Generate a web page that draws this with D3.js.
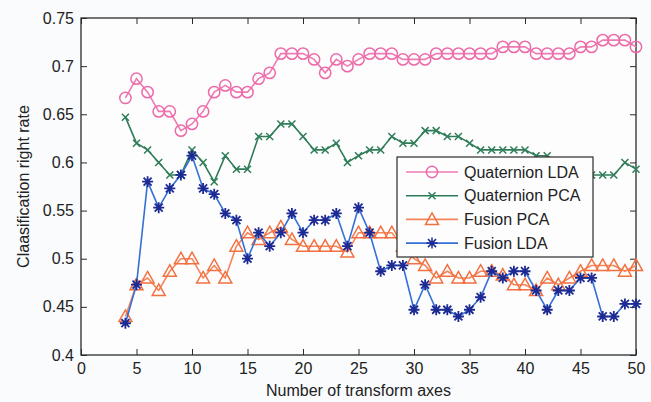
<!DOCTYPE html>
<html>
<head>
<meta charset="utf-8">
<script src="https://cdn.jsdelivr.net/npm/d3@7"></script>
<style>
  body { margin: 0; background: #fafbfd; }
  svg { display: block; font-family: "Liberation Sans", Arial, sans-serif; }
</style>
</head>
<body>
<script>
// data
var axes = d3.range(4, 51);   // number of transform axes 4..50

var quatLDA = [0.667, 0.687, 0.673, 0.653, 0.653, 0.633, 0.640, 0.653, 0.673, 0.680,
  0.673, 0.673, 0.687, 0.693, 0.713, 0.713, 0.713, 0.707, 0.693, 0.707,
  0.700, 0.707, 0.713, 0.713, 0.713, 0.707, 0.707, 0.707, 0.713, 0.713,
  0.713, 0.713, 0.713, 0.713, 0.720, 0.720, 0.720, 0.713, 0.713, 0.713,
  0.713, 0.720, 0.720, 0.727, 0.727, 0.727, 0.720];

var quatPCA = [0.647, 0.620, 0.613, 0.600, 0.587, 0.587, 0.613, 0.600, 0.580, 0.607,
  0.593, 0.593, 0.627, 0.627, 0.640, 0.640, 0.627, 0.613, 0.613, 0.620,
  0.600, 0.607, 0.613, 0.613, 0.627, 0.620, 0.620, 0.633, 0.633, 0.627,
  0.627, 0.620, 0.613, 0.613, 0.613, 0.613, 0.613, 0.607, 0.607, 0.600,
  0.593, 0.587, 0.587, 0.587, 0.587, 0.600, 0.593];

var fusPCA = [0.440, 0.473, 0.480, 0.467, 0.487, 0.500, 0.500, 0.480, 0.493, 0.480,
  0.513, 0.527, 0.520, 0.527, 0.533, 0.520, 0.513, 0.513, 0.513, 0.513,
  0.507, 0.527, 0.527, 0.527, 0.527, 0.513, 0.500, 0.493, 0.480, 0.487,
  0.480, 0.480, 0.487, 0.487, 0.483, 0.473, 0.473, 0.467, 0.480, 0.473,
  0.480, 0.487, 0.493, 0.493, 0.493, 0.487, 0.493];

var fusLDA = [0.433, 0.473, 0.580, 0.553, 0.573, 0.587, 0.607, 0.573, 0.567, 0.547,
  0.540, 0.500, 0.527, 0.513, 0.527, 0.547, 0.527, 0.540, 0.540, 0.547,
  0.513, 0.553, 0.527, 0.487, 0.493, 0.493, 0.447, 0.473, 0.447, 0.447,
  0.440, 0.447, 0.460, 0.487, 0.480, 0.487, 0.487, 0.467, 0.447, 0.467,
  0.467, 0.480, 0.480, 0.440, 0.440, 0.453, 0.453];

var xTicks = d3.range(0, 51, 5);
var yTicks = [0.4, 0.45, 0.5, 0.55, 0.6, 0.65, 0.7, 0.75];

var series = [
  {name: "Quaternion LDA", values: quatLDA, line: "#ef7bb3", mark: "#ec6aa8", shape: "circle"},
  {name: "Quaternion PCA", values: quatPCA, line: "#2f7d58", mark: "#2f7d58", shape: "cross"},
  {name: "Fusion PCA", values: fusPCA, line: "#f5855a", mark: "#f2703f", shape: "triangle"},
  {name: "Fusion LDA", values: fusLDA, line: "#3570d6", mark: "#1d2a93", shape: "star"}
];

var w = 651, h = 402;
var margin = {top: 18, right: 15, bottom: 47, left: 81},
    width = w - margin.left - margin.right,
    height = h - margin.top - margin.bottom;

var svg = d3.select("body").append("svg")
    .attr("width", w)
    .attr("height", h);

svg.append("rect").attr("width", w).attr("height", h).attr("fill", "#fafbfd");

var g = svg.append("g")
    .attr("transform", "translate(" + margin.left + "," + margin.top + ")");

var xScale = d3.scaleLinear().domain([0, 50]).range([0, width]);
var yScale = d3.scaleLinear().domain([0.4, 0.75]).range([height, 0]);

g.append("rect")
    .attr("width", width)
    .attr("height", height)
    .attr("fill", "#fdfdfe");

// axes, matlab style: inward ticks on all four sides
var axisColor = "#2b2b2b";
function styleAxis(sel) {
  sel.select(".domain").remove();
  sel.selectAll(".tick line").attr("stroke", axisColor).attr("stroke-width", 1);
  sel.selectAll(".tick text").attr("fill", "#222").style("font-size", "16px");
}

g.append("g")
    .attr("transform", "translate(0," + height + ")")
    .call(d3.axisBottom(xScale).tickValues(xTicks).tickFormat(d3.format("d")).tickSizeInner(-6).tickPadding(8))
    .call(styleAxis);
g.append("g")
    .call(d3.axisTop(xScale).tickValues(xTicks).tickSizeInner(-6).tickFormat(""))
    .call(styleAxis);
g.append("g")
    .call(d3.axisLeft(yScale).tickValues(yTicks).tickFormat(function(d) { return d3.format("")(+d.toFixed(2)); }).tickSizeInner(-6).tickPadding(7))
    .call(styleAxis);
g.append("g")
    .attr("transform", "translate(" + width + ",0)")
    .call(d3.axisRight(yScale).tickValues(yTicks).tickSizeInner(-6).tickFormat(""))
    .call(styleAxis);

g.append("rect")
    .attr("width", width)
    .attr("height", height)
    .attr("fill", "none")
    .attr("stroke", axisColor)
    .attr("stroke-width", 1.3);

// marker shapes
function markerPath(shape) {
  if (shape === "cross") return "M-3.5,-3.5L3.5,3.5M-3.5,3.5L3.5,-3.5";
  if (shape === "triangle") return "M0,-6.5L6.5,5L-6.5,5Z";
  if (shape === "star") return "M-5.5,0L5.5,0M0,-5.5L0,5.5M-4,-4L4,4M-4,4L4,-4";
  return d3.symbol().type(d3.symbolCircle).size(100)();
}

var line = d3.line()
    .x(function(d, i) { return xScale(axes[i]); })
    .y(function(d) { return yScale(d); });

series.forEach(function(s) {
  g.append("path")
      .attr("d", line(s.values))
      .attr("fill", "none")
      .attr("stroke", s.line)
      .attr("stroke-width", 1.6);

  g.selectAll(null)
      .data(s.values)
    .enter().append("path")
      .attr("transform", function(d, i) { return "translate(" + xScale(axes[i]) + "," + yScale(d) + ")"; })
      .attr("d", markerPath(s.shape))
      .attr("fill", "none")
      .attr("stroke", s.mark)
      .attr("stroke-width", s.shape === "star" ? 1.8 : 1.5);
});

// axis titles
svg.append("text")
    .attr("x", margin.left + width / 2)
    .attr("y", 396)
    .attr("text-anchor", "middle")
    .attr("fill", "#222")
    .style("font-size", "16px")
    .text("Number of transform axes");

svg.append("text")
    .attr("transform", "translate(29," + (margin.top + height / 2) + ") rotate(-90)")
    .attr("text-anchor", "middle")
    .attr("fill", "#222")
    .style("font-size", "16px")
    .text("Claasification right rate");

// legend
var legend = svg.append("g")
    .attr("transform", "translate(397,157)");

legend.append("rect")
    .attr("width", 196)
    .attr("height", 100)
    .attr("fill", "#fdfdfe")
    .attr("stroke", axisColor)
    .attr("stroke-width", 1.2);

var item = legend.selectAll(".legend")
    .data(series)
  .enter().append("g")
    .attr("class", "legend")
    .attr("transform", function(d, i) { return "translate(0," + (15 + i * 23.7) + ")"; });

item.append("line")
    .attr("x1", 9)
    .attr("x2", 61)
    .attr("stroke", function(d) { return d.line; })
    .attr("stroke-width", 1.6);

item.append("path")
    .attr("transform", "translate(35,0)")
    .attr("d", function(d) { return markerPath(d.shape); })
    .attr("fill", "none")
    .attr("stroke", function(d) { return d.mark; })
    .attr("stroke-width", 1.5);

item.append("text")
    .attr("x", 67)
    .attr("dy", "0.35em")
    .attr("fill", "#222")
    .style("font-size", "16px")
    .text(function(d) { return d.name; });
</script>
</body>
</html>
